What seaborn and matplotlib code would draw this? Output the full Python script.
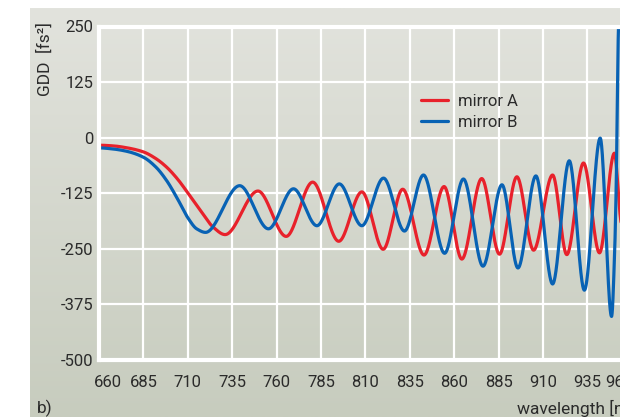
import numpy as np
import pandas as pd
import matplotlib
matplotlib.use("Agg")
import matplotlib.pyplot as plt
import matplotlib.transforms as mtransforms
import seaborn as sns

# ---- data (wavelength nm, GDD fs^2) ----
red_wl = [660, 668, 676, 685, 692, 698, 704, 710, 717, 724, 731, 749.5, 765.4, 780.3,
          795, 808, 820, 831, 843, 854.3, 864.3, 875.5, 885.5, 895.3, 904.7, 915.4,
          923.4, 932.8, 941.8, 950.2, 953.6, 957]
red_gdd = [-17, -18.5, -23, -32, -47, -66, -92, -124, -163, -200, -218, -120, -222, -100,
           -233, -122, -251, -116, -264, -110, -273, -92, -262, -88, -253, -84,
           -263, -57, -259, -35, -180, -262]

blue_wl = [660, 668, 676, 685, 692, 698, 704, 710, 715, 720, 739.2, 755.4, 769.5, 782.7,
           795.3, 808, 820.2, 832, 842.7, 854.6, 865.2, 876.2, 886.9, 895.9, 906, 915.4,
           924.8, 933.3, 942.2, 948.6, 950.3, 951.2, 952.5, 954.5]
blue_gdd = [-23, -25.5, -31, -44, -66, -96, -136, -180, -205, -213, -108, -205, -115, -198,
            -104, -198, -91, -210, -84, -260, -93, -289, -106, -293, -86, -329,
            -52, -343, -1, -402, -262, -112, 250, 420]

x_ticks = [660, 685, 710, 735, 760, 785, 810, 835, 860, 885, 910, 935, 960, 985]
y_ticks = [-500, -375, -250, -125, 0, 125, 250]
series_names = ["mirror A", "mirror B"]
series_colors = ["#e8212b", "#0862b4"]


def pchip_curve(x, y, n=3000):
    """Shape-preserving cubic drawn through the read points (render smoothing)."""
    x = np.asarray(x, float)
    y = np.asarray(y, float)
    h = np.diff(x)
    d = np.diff(y) / h
    m = np.zeros_like(x)
    for k in range(1, len(x) - 1):
        if d[k - 1] * d[k] > 0:
            w1 = 2 * h[k] + h[k - 1]
            w2 = h[k] + 2 * h[k - 1]
            m[k] = (w1 + w2) / (w1 / d[k - 1] + w2 / d[k])
    m[0] = 0.0
    mn = ((2 * h[-1] + h[-2]) * d[-1] - h[-1] * d[-2]) / (h[-1] + h[-2])
    m[-1] = mn if np.sign(mn) == np.sign(d[-1]) else 0.0
    xs = np.linspace(x[0], x[-1], n)
    idx = np.clip(np.searchsorted(x, xs) - 1, 0, len(x) - 2)
    t = (xs - x[idx]) / h[idx]
    h00 = 2 * t**3 - 3 * t**2 + 1
    h10 = t**3 - 2 * t**2 + t
    h01 = -2 * t**3 + 3 * t**2
    h11 = t**3 - t**2
    ys = (h00 * y[idx] + h10 * h[idx] * m[idx] + h01 * y[idx + 1]
          + h11 * h[idx] * m[idx + 1])
    return xs, ys


sns.set_style("white")
plt.rcParams["font.family"] = ["Liberation Sans Narrow", "Roboto", "DejaVu Sans"]
text_color = "#2b2b2b"

W, H = 620, 417
fig = plt.figure(figsize=(W / 100, H / 100), dpi=100)
fig.patch.set_facecolor("white")

# gradient panel behind everything
bg = fig.add_axes([30 / W, 0, 1 - 30 / W, 1 - 8 / H], zorder=-10)
top = np.array([226, 227, 221]) / 255
bot = np.array([199, 204, 190]) / 255
grad = np.linspace(0, 1, 256)[:, None, None]
img = top * (1 - grad) + bot * grad
bg.imshow(img, aspect="auto", extent=[0, 1, 0, 1])
bg.set_axis_off()

ax_left, ax_bottom = 99 / W, (H - 360) / H
ax_h = (360 - 26.5) / H
ax_w = (985 - 660) * 1.776 / W
ax = fig.add_axes([ax_left, ax_bottom, ax_w, ax_h])
ax.patch.set_alpha(0)

frames = []
for name, wl, gdd in [(series_names[0], red_wl, red_gdd), (series_names[1], blue_wl, blue_gdd)]:
    xs, ys = pchip_curve(wl, gdd)
    frames.append(pd.DataFrame({"wavelength": xs, "GDD": ys, "mirror": name}))
df = pd.concat(frames, ignore_index=True)

sns.lineplot(data=df, x="wavelength", y="GDD", hue="mirror", palette=series_colors,
             sort=False, estimator=None, lw=2.3, ax=ax, legend=True)

ax.set_xlim(660, 985)
ax.set_ylim(-500, 250)
ax.set_xticks(x_ticks)
ax.set_yticks(y_ticks)
ax.set_xticklabels([str(v) for v in x_ticks])
ax.set_yticklabels([str(v) for v in y_ticks])
ax.grid(True, color="white", lw=1.6)
ax.set_axisbelow(True)
for s in ["left", "top", "bottom", "right"]:
    ax.spines[s].set_color("white")
    ax.spines[s].set_linewidth(3)
ax.tick_params(length=0, labelsize=12, colors=text_color)
ax.tick_params(axis="x", pad=11)
ax.tick_params(axis="y", pad=4)
ax.set_xlabel("")
ax.set_ylabel("")

# edge x labels nudged inward as in the reference
xlabs = ax.get_xticklabels()
xlabs[0].set_transform(xlabs[0].get_transform()
                       + mtransforms.ScaledTranslation(9 / 100, 0, fig.dpi_scale_trans))
xlabs[12].set_transform(xlabs[12].get_transform()
                        + mtransforms.ScaledTranslation(-12 / 100, 0, fig.dpi_scale_trans))

handles, labels = ax.get_legend_handles_labels()
leg = ax.legend(handles, labels, loc="upper left", frameon=False, fontsize=12,
                bbox_to_anchor=(413 / W, 1 - 86 / H), bbox_transform=fig.transFigure,
                handlelength=1.6, handletextpad=0.6, labelspacing=0.35, borderpad=0)
for t in leg.get_texts():
    t.set_color(text_color)

fig.text(45 / W, 1 - 59 / H, "GDD  [fs²]", rotation=90, ha="center", va="center",
         fontsize=12.5, color=text_color)
fig.text(37 / W, 1 - 408 / H, "b)", ha="left", va="center", fontsize=12.5, color=text_color)
fig.text(517 / W, 1 - 408 / H, "wavelength [nm]", ha="left", va="center", fontsize=12.5,
         color=text_color)

fig.savefig("out.png", dpi=100)
